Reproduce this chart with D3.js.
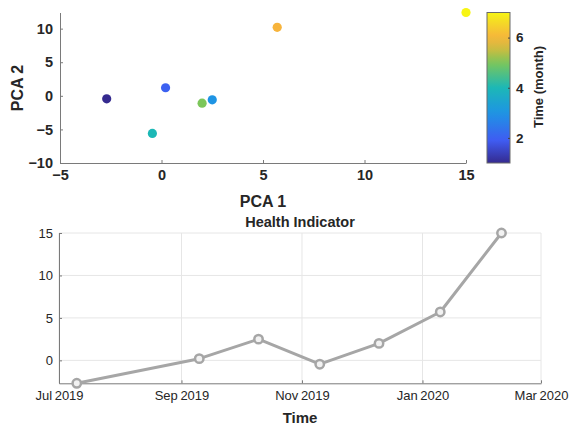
<!DOCTYPE html>
<html>
<head>
<meta charset="utf-8">
<script src="https://cdn.jsdelivr.net/npm/d3@7"></script>
<style>
  body { margin: 0; background: #fff; }
  text { font-family: "Liberation Sans", Arial, sans-serif; fill: #262626; }
</style>
</head>
<body>
<div id="chart-area"></div>
<script>
/*
*    pca + health indicator
*/

// data
var months = [1, 2, 3, 4, 5, 6, 7];
var pca1 = [-2.7, 0.2, 2.5, -0.45, 2.0, 5.7, 15.0];
var pca2 = [-0.45, 1.2, -0.6, -5.6, -1.1, 10.2, 12.4];
var dates = ["2019-07-10", "2019-09-10", "2019-10-10", "2019-11-10", "2019-12-10", "2020-01-10", "2020-02-10"];
var health = pca1;

var pcaXTicks = [-5, 0, 5, 10, 15];
var pcaYTicks = [-10, -5, 0, 5, 10];
var barTicks = [2, 4, 6];
var timeTicks = ["2019-07-01", "2019-09-01", "2019-11-01", "2020-01-01", "2020-03-01"];
var healthTicks = [0, 5, 10, 15];

var parse = d3.timeParse("%Y-%m-%d");

// old-style parula, roughly
var parula = d3.scaleLinear()
    .domain([0, 0.15, 0.333, 0.5, 0.667, 0.75, 0.833, 0.92, 1])
    .range(["#352a8f", "#3f5cf2", "#1e94e4", "#1cb8b6", "#7cc65a", "#c6bd42", "#f7b43c", "#f4d42a", "#f7f514"])
    .interpolate(d3.interpolateRgb);

var color = d3.scaleLinear().domain([1, 7]).range([0, 1]);

var svg = d3.select("#chart-area").append("svg")
    .attr("width", 571)
    .attr("height", 428);

var axisGrey = "#7a7a7a";

// ---------- top: scatter ----------
var x1 = d3.scaleLinear().domain([-5, 15]).range([60, 466]);
var y1 = d3.scaleLinear().domain([-10, d3.max(pca2)]).range([163, 12.5]);

var pcaGroup = svg.append("g");

var xAx1 = pcaGroup.append("g")
    .attr("transform", "translate(0,163)")
    .call(d3.axisBottom(x1).tickValues(pcaXTicks).tickSizeInner(-3).tickSizeOuter(0).tickPadding(7));

var yAx1 = pcaGroup.append("g")
    .attr("transform", "translate(60,0)")
    .call(d3.axisLeft(y1).tickValues(pcaYTicks).tickSizeInner(-3).tickSizeOuter(0).tickPadding(7));

[xAx1, yAx1].forEach(function(g) {
    g.select(".domain").attr("stroke", axisGrey);
    g.selectAll(".tick line").attr("stroke", axisGrey);
    g.selectAll("text")
        .attr("font-family", "Liberation Sans, Arial, sans-serif")
        .attr("font-size", "14.5px")
        .attr("font-weight", "bold")
        .attr("fill", "#262626");
});

pcaGroup.selectAll("circle")
    .data(months)
    .enter().append("circle")
    .attr("cx", function(d, i) { return x1(pca1[i]); })
    .attr("cy", function(d, i) { return y1(pca2[i]); })
    .attr("r", 4.6)
    .attr("fill", function(d) { return parula(color(d)); });

pcaGroup.append("text")
    .attr("x", 263)
    .attr("y", 207)
    .attr("text-anchor", "middle")
    .attr("font-size", "16px")
    .attr("font-weight", "bold")
    .text("PCA 1");

pcaGroup.append("text")
    .attr("transform", "translate(23,88) rotate(-90)")
    .attr("text-anchor", "middle")
    .attr("font-size", "16px")
    .attr("font-weight", "bold")
    .text("PCA 2");

// colorbar
var cb = d3.scaleLinear().domain([1, 7]).range([163, 12.5]);

var grad = svg.append("defs").append("linearGradient")
    .attr("id", "parula")
    .attr("x1", "0").attr("y1", "1")
    .attr("x2", "0").attr("y2", "0");

grad.selectAll("stop")
    .data(d3.range(0, 1.0001, 0.05))
    .enter().append("stop")
    .attr("offset", function(d) { return d; })
    .attr("stop-color", function(d) { return parula(d); });

pcaGroup.append("rect")
    .attr("x", 487)
    .attr("y", 12.5)
    .attr("width", 23)
    .attr("height", 150.5)
    .attr("fill", "url(#parula)")
    .attr("stroke", "#6a6a6a")
    .attr("stroke-width", 1);

var cbAx = pcaGroup.append("g")
    .attr("transform", "translate(510,0)")
    .call(d3.axisRight(cb).tickValues(barTicks).tickFormat(d3.format("d"))
        .tickSizeInner(-2).tickSizeOuter(0).tickPadding(6));

cbAx.select(".domain").remove();
cbAx.selectAll(".tick line").attr("stroke", "#444");
cbAx.selectAll("text")
    .attr("font-family", "Liberation Sans, Arial, sans-serif")
    .attr("font-size", "13.5px")
    .attr("font-weight", "bold")
    .attr("fill", "#262626");

pcaGroup.append("text")
    .attr("transform", "translate(543,87) rotate(-90)")
    .attr("text-anchor", "middle")
    .attr("font-size", "13px")
    .attr("font-weight", "bold")
    .text("Time (month)");

// ---------- bottom: health indicator ----------
var x2 = d3.scaleTime()
    .domain([parse(timeTicks[0]), parse(timeTicks[timeTicks.length - 1])])
    .range([59, 541]);
var y2 = d3.scaleLinear()
    .domain([d3.min(health), d3.max(health)])
    .range([383.3, 233]);

var hiGroup = svg.append("g");

// grid
hiGroup.append("g")
    .selectAll("line")
    .data(timeTicks)
    .enter().append("line")
    .attr("x1", function(d) { return x2(parse(d)); })
    .attr("x2", function(d) { return x2(parse(d)); })
    .attr("y1", 233)
    .attr("y2", 383.3)
    .attr("stroke", "#e6e6e6");

hiGroup.append("g")
    .selectAll("line")
    .data(healthTicks)
    .enter().append("line")
    .attr("x1", 59)
    .attr("x2", 541)
    .attr("y1", function(d) { return y2(d); })
    .attr("y2", function(d) { return y2(d); })
    .attr("stroke", "#e6e6e6");

var xAx2 = hiGroup.append("g")
    .attr("transform", "translate(0,383.3)")
    .call(d3.axisBottom(x2)
        .tickValues(timeTicks.map(parse))
        .tickFormat(d3.timeFormat("%b %Y"))
        .tickSizeInner(-3).tickSizeOuter(0).tickPadding(7));

var yAx2 = hiGroup.append("g")
    .attr("transform", "translate(59,0)")
    .call(d3.axisLeft(y2).tickValues(healthTicks).tickSizeInner(-3).tickSizeOuter(0).tickPadding(6));

[xAx2, yAx2].forEach(function(g) {
    g.select(".domain").attr("stroke", axisGrey);
    g.selectAll(".tick line").attr("stroke", axisGrey);
    g.selectAll("text")
        .attr("font-family", "Liberation Sans, Arial, sans-serif")
        .attr("font-size", "13px")
        .attr("fill", "#262626");
});
xAx2.selectAll("text").attr("word-spacing", "-1px");

var line = d3.line()
    .x(function(d, i) { return x2(parse(dates[i])); })
    .y(function(d) { return y2(d); });

hiGroup.append("path")
    .datum(health)
    .attr("d", line)
    .attr("fill", "none")
    .attr("stroke", "#a6a6a6")
    .attr("stroke-width", 3)
    .attr("stroke-linejoin", "round");

hiGroup.selectAll("circle")
    .data(health)
    .enter().append("circle")
    .attr("cx", function(d, i) { return x2(parse(dates[i])); })
    .attr("cy", function(d) { return y2(d); })
    .attr("r", 4.2)
    .attr("fill", "#f2f2f2")
    .attr("stroke", "#a6a6a6")
    .attr("stroke-width", 2.5);

hiGroup.append("text")
    .attr("x", 300)
    .attr("y", 227)
    .attr("text-anchor", "middle")
    .attr("font-size", "14.5px")
    .attr("font-weight", "bold")
    .attr("fill", "#000")
    .text("Health Indicator");

hiGroup.append("text")
    .attr("x", 300)
    .attr("y", 423)
    .attr("text-anchor", "middle")
    .attr("font-size", "15px")
    .attr("font-weight", "bold")
    .text("Time");
</script>
</body>
</html>
